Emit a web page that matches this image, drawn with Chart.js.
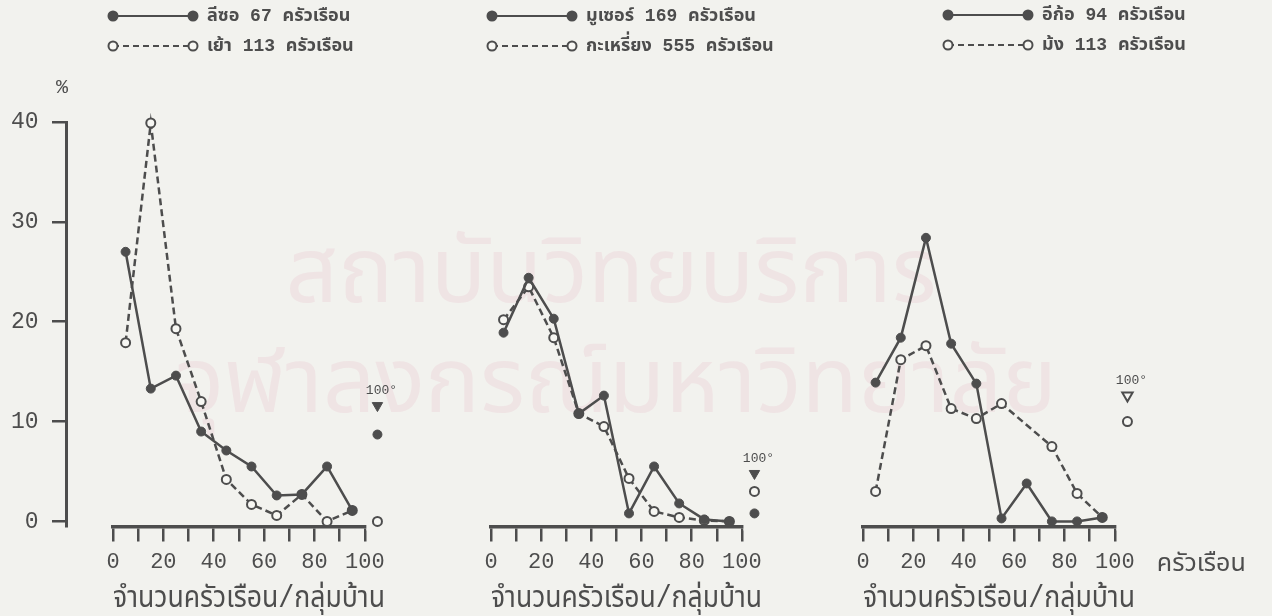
<!DOCTYPE html>
<html>
<head>
<meta charset="utf-8">
<script src="https://cdn.jsdelivr.net/npm/chart.js@4/dist/chart.umd.min.js"></script>
<style>
  body { margin: 0; background: #f2f2ee; }
  #wrap { position: relative; width: 1272px; height: 616px; overflow: hidden; }
  #wrap canvas { position: absolute; top: 0; }
  .mark { position: absolute; left: 0; width: 1272px; text-align: center; color: #efe4e4;
          font-family: 'Noto Sans Thai', 'Loma', sans-serif; font-size: 92px; line-height: 1; }
</style>
</head>
<body>
<div id="wrap">
  <div class="mark" style="top:228px;padding-right:50px;box-sizing:border-box">สถาบันวิทยบริการ</div>
  <div class="mark" style="top:338px;padding-right:40px;box-sizing:border-box">จุฬาลงกรณ์มหาวิทยาลัย</div>
  <canvas id="panel1" width="424" height="616" style="left:0px"></canvas>
  <canvas id="panel2" width="406" height="616" style="left:424px"></canvas>
  <canvas id="panel3" width="442" height="616" style="left:830px"></canvas>
</div>
<script>
// households per village, class mid points (0-10, 10-20 ... 90-100)
var classMid = [5, 15, 25, 35, 45, 55, 65, 75, 85, 95];
var overX = 105;            // the "100+" column
var xTickMarks = [0, 10, 20, 30, 40, 50, 60, 70, 80, 90, 100];
var xTicks = [0, 20, 40, 60, 80, 100];
var yTicks = [0, 10, 20, 30, 40];

var lisuLabel  = "ลีซอ 67 ครัวเรือน";
var lisu       = [27.0, 13.3, 14.6, 9.0, 7.1, 5.5, 2.6, 2.7, 5.5, 1.1];
var lisuOver   = 8.7;
var yaoLabel   = "เย้า 113 ครัวเรือน";
var yao        = [17.9, 39.9, 19.3, 12.0, 4.2, 1.7, 0.6, 2.7, 0.0, 1.1];
var yaoOver    = 0.0;

var musurLabel = "มูเซอร์ 169 ครัวเรือน";
var musur      = [18.9, 24.4, 20.3, 10.8, 12.6, 0.8, 5.5, 1.8, 0.2, 0.0];
var musurOver  = 0.8;
var karenLabel = "กะเหรี่ยง 555 ครัวเรือน";
var karen      = [20.2, 23.5, 18.4, 10.8, 9.5, 4.3, 1.0, 0.4, 0.1, 0.0];
var karenOver  = 3.0;

var akhaLabel  = "อีก้อ 94 ครัวเรือน";
var akha       = [13.9, 18.4, 28.4, 17.8, 13.8, 0.3, 3.8, 0.0, 0.0, 0.4];
var hmongLabel = "ม้ง 113 ครัวเรือน";
var hmong      = [3.0, 16.2, 17.6, 11.3, 10.3, 11.8, null, 7.5, 2.8, 0.4];
var hmongOver  = 10.0;

// where the "100°" mark sits in each panel (in %)
var overMark = [11.6, 4.8, 12.6];
var overText = "100°";
var xTitle = "จำนวนครัวเรือน/กลุ่มบ้าน";
var xUnit = "ครัวเรือน";
var yUnit = "%";

var ink = "#4d4d4d";
var paper = "#f7f7f3";
var fam = "'Liberation Mono', 'DejaVu Sans Mono', 'Noto Sans Thai', 'Loma', 'Garuda', monospace";

function pts(values) {
  return classMid.map(function (x, i) { return { x: x, y: values[i] }; });
}

function solidSet(label, values) {
  return {
    label: label, data: pts(values), borderColor: ink, borderWidth: 2.5,
    pointRadius: 4.5, pointBackgroundColor: ink, pointBorderColor: ink,
    pointBorderWidth: 1, spanGaps: true, clip: false, tension: 0
  };
}
function dashedSet(label, values) {
  return {
    label: label, data: pts(values), borderColor: ink, borderWidth: 2.5,
    borderDash: [7, 4], pointRadius: 4.5, pointBackgroundColor: paper,
    pointBorderColor: ink, pointBorderWidth: 2, spanGaps: true, clip: false, tension: 0
  };
}
function overSet(value, open) {
  return {
    label: "over", data: [{ x: overX, y: value }], showLine: false, clip: false,
    pointRadius: 4.5, pointBackgroundColor: open ? paper : ink,
    pointBorderColor: ink, pointBorderWidth: open ? 2 : 1
  };
}
function markSet(value, open) {
  return {
    label: "mark", data: [{ x: overX, y: value }], showLine: false, clip: false,
    pointStyle: "triangle", rotation: 180, pointRadius: 6,
    pointBackgroundColor: open ? paper : ink, pointBorderColor: ink, pointBorderWidth: open ? 2 : 1
  };
}

// the x axis line stops at 100, the 100+ column stands free
var trimAxis = {
  id: "trimAxis",
  beforeDraw: function (chart) {
    var ctx = chart.ctx, xs = chart.scales.x;
    var cut = xs.getPixelForValue(100) + 1.5;
    ctx.save();
    ctx.beginPath();
    ctx.rect(0, 0, chart.width, chart.height);
    ctx.rect(cut, xs.top - 4, chart.width - cut, 8);
    ctx.clip("evenodd");
  },
  beforeDatasetsDraw: function (chart) { chart.ctx.restore(); }
};

// legend samples, titles and small labels
var extras = {
  id: "extras",
  afterDraw: function (chart, args, opts) {
    var ctx = chart.ctx;
    var xs = chart.scales.x, ys = chart.scales.y;
    ctx.save();
    ctx.fillStyle = ink;
    ctx.strokeStyle = ink;
    ctx.textBaseline = "middle";
    (opts.legend || []).forEach(function (item, i) {
      var y = opts.legendTop + i * 30;
      var x0 = opts.legendLeft, x1 = x0 + 80;
      ctx.lineWidth = 2;
      ctx.setLineDash(item.dashed ? [6, 4] : []);
      ctx.beginPath(); ctx.moveTo(x0, y); ctx.lineTo(x1, y); ctx.stroke();
      ctx.setLineDash([]);
      [x0, x1].forEach(function (cx) {
        ctx.beginPath(); ctx.arc(cx, y, 4.5, 0, Math.PI * 2);
        ctx.fillStyle = item.dashed ? paper : ink;
        ctx.fill(); ctx.lineWidth = 2; ctx.stroke();
      });
      ctx.fillStyle = ink;
      ctx.font = "bold 18px " + fam;
      ctx.textAlign = "left";
      ctx.fillText(item.text, x1 + 14, y);
    });
    // 100° mark label
    ctx.font = "13px " + fam;
    ctx.textAlign = "center";
    ctx.fillText(overText, xs.getPixelForValue(overX) + 4, ys.getPixelForValue(opts.mark) - 15);
    if (opts.showY) {
      ctx.font = "20px " + fam;
      ctx.fillText(yUnit, 62, 88);
    }
    if (opts.showUnit) {
      ctx.font = "25px " + fam;
      ctx.textAlign = "left";
      ctx.fillText(xUnit, xs.getPixelForValue(100) + 42, xs.top + 38);
    }
    ctx.restore();
  }
};

function makeChart(id, sets, pad, showY, plug) {
  var yScale = {
    type: "linear", min: -0.5, max: 40, display: showY,
    afterBuildTicks: function (s) { s.ticks = yTicks.map(function (v) { return { value: v }; }); },
    border: { display: true, width: 3, color: ink },
    grid: { drawOnChartArea: false, drawTicks: true, tickLength: 13, lineWidth: 2.5, color: ink },
    // labels of an axis placed by value sit right on the line, so pad them with spaces
    ticks: { color: ink, font: { family: fam, size: 23 }, callback: function (v) { return v + "  "; } }
  };
  if (showY) yScale.position = { x: -18.6 };
  return new Chart(document.getElementById(id), {
    type: "line",
    data: { datasets: sets },
    plugins: [trimAxis, extras],
    options: {
      responsive: false,
      animation: false,
      layout: { padding: pad },
      plugins: { legend: { display: false }, tooltip: { enabled: false }, extras: plug },
      scales: {
        x: {
          type: "linear", min: 0, max: 108, bounds: "data",
          afterBuildTicks: function (s) { s.ticks = xTickMarks.map(function (v) { return { value: v }; }); },
          border: { display: true, width: 3.5, color: ink },
          grid: { drawOnChartArea: false, drawTicks: true, tickLength: 15, lineWidth: 2.5, color: ink },
          ticks: {
            autoSkip: false, maxRotation: 0, color: ink, padding: 8,
            font: { family: fam, size: 22 },
            callback: function (v) { return xTicks.indexOf(v) >= 0 ? String(v) : ""; }
          },
          title: { display: true, text: xTitle, color: ink, font: { family: fam, size: 31 }, padding: { top: -4, bottom: -1 } }
        },
        y: yScale
      }
    }
  });
}

makeChart("panel1",
  [solidSet(lisuLabel, lisu), dashedSet(yaoLabel, yao), overSet(lisuOver, false), overSet(yaoOver, true), markSet(overMark[0], false)],
  { left: 113, right: 39, top: 122, bottom: 0 }, true,
  { legendLeft: 113, legendTop: 16, mark: overMark[0], showY: true,
    legend: [{ text: lisuLabel, dashed: false }, { text: yaoLabel, dashed: true }] });

makeChart("panel2",
  [solidSet(musurLabel, musur), dashedSet(karenLabel, karen), overSet(musurOver, false), overSet(karenOver, true), markSet(overMark[1], false)],
  { left: 67, right: 68, top: 122, bottom: 0 }, false,
  { legendLeft: 68, legendTop: 16, mark: overMark[1],
    legend: [{ text: musurLabel, dashed: false }, { text: karenLabel, dashed: true }] });

makeChart("panel3",
  [solidSet(akhaLabel, akha), dashedSet(hmongLabel, hmong), overSet(hmongOver, true), markSet(overMark[2], true)],
  { left: 33, right: 137, top: 122, bottom: 0 }, false,
  { legendLeft: 118, legendTop: 15, mark: overMark[2], showUnit: true,
    legend: [{ text: akhaLabel, dashed: false }, { text: hmongLabel, dashed: true }] });
</script>
</body>
</html>
